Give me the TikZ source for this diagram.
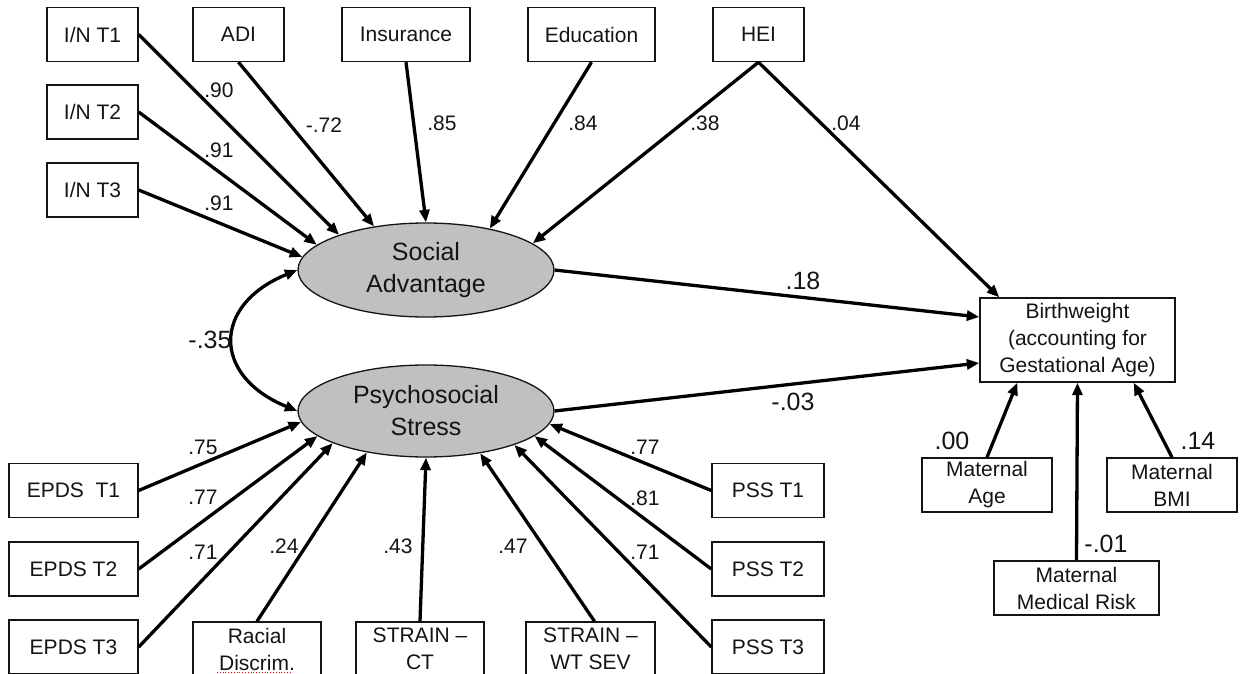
\documentclass[tikz,border=0pt]{standalone}
\usepackage{fontspec}
\setmainfont{Liberation Sans}
\usetikzlibrary{shapes.geometric,arrows.meta,calc}
\definecolor{txt}{HTML}{141414}
\definecolor{latfill}{HTML}{C0C0C0}
\begin{document}
\begin{tikzpicture}[x=1pt,y=-1pt,
  obsbox/.style={draw=txt,line width=1.4pt,inner sep=0pt,align=center,text=txt,minimum height=54pt,font=\fontsize{21}{27}\selectfont},
  latent/.style={ellipse,draw=txt,line width=1.3pt,fill=latfill,inner sep=0pt,minimum width=256pt,minimum height=94pt,align=center,text=txt,font=\fontsize{25}{32}\selectfont},
  arr/.style={draw=black,line width=3.3pt,-{Triangle[length=12.5pt,width=10pt]}},
  lbl/.style={text=txt,inner sep=0pt,font=\fontsize{21}{24}\selectfont},
  biglbl/.style={text=txt,inner sep=0pt,font=\fontsize{25}{28}\selectfont}]
\useasboundingbox (0,0) rectangle (1243,674);
\clip (0,0) rectangle (1243,674);
\fill[white] (0,0) rectangle (1243,674);

% top indicators
\node[obsbox,minimum width=91pt] (in1) at (92.5,34.5) {I/N T1};
\node[obsbox,minimum width=91pt] (in2) at (92.5,112) {I/N T2};
\node[obsbox,minimum width=91pt] (in3) at (92.5,190) {I/N T3};
\node[obsbox,minimum width=91pt] (adi) at (238.5,34.5) {ADI};
\node[obsbox,minimum width=128pt] (ins) at (406,34.5) {Insurance};
\node[obsbox,minimum width=127pt] (edu) at (591.5,34.5) {Education};
\node[obsbox,minimum width=91pt] (hei) at (758.5,34.5) {HEI};

% latent variables
\node[latent] (sa) at (426,270) {Social\\Advantage};
\node[latent,minimum height=92pt] (ps) at (426,411) {Psychosocial\\Stress};

% outcome and covariates
\node[obsbox,minimum width=195pt,minimum height=84pt] (bw) at (1077.5,340) {Birthweight\\(accounting for\\Gestational Age)};
\node[obsbox,minimum width=130pt] (mage) at (987,485) {Maternal\\Age};
\node[obsbox,minimum width=130pt] (mbmi) at (1172,485) {Maternal\\BMI};
\node[obsbox,minimum width=165pt] (mmed) at (1076.5,588) {Maternal\\Medical Risk};

% stress indicators
\node[obsbox,minimum width=129pt] (ep1) at (73.5,490.5) {EPDS\ \ T1};
\node[obsbox,minimum width=129pt] (ep2) at (73.5,569) {EPDS T2};
\node[obsbox,minimum width=129pt] (ep3) at (73.5,647) {EPDS T3};
\node[obsbox,minimum width=128pt] (rd) at (257,649) {Racial\\Discrim.};
\node[obsbox,minimum width=128pt] (ct) at (420,649) {STRAIN –\\CT};
\node[obsbox,minimum width=129pt] (wt) at (590.5,649) {STRAIN –\\WT SEV};
\node[obsbox,minimum width=112pt] (pss1) at (768,490.5) {PSS T1};
\node[obsbox,minimum width=112pt] (pss2) at (768,569) {PSS T2};
\node[obsbox,minimum width=112pt] (pss3) at (768,647) {PSS T3};

\draw[red,line width=0.8pt,dotted] (217,672) -- (292,672);

% arrows into Social Advantage
\draw[arr] (in1.east) -- (sa.158);
\draw[arr] (in2.east) -- (sa.167);
\draw[arr] (in3.east) -- (sa.174);
\draw[arr] (adi.south) -- (sa.140);
\draw[arr] (ins.south) -- (sa.north);
\draw[arr] (edu.south) -- (sa.33);
\draw[arr] (hei.south) -- (sa.14);

% arrows into Psychosocial Stress
\draw[arr] (ep1.east) -- (ps.185);
\draw[arr] (ep2.east) -- (ps.193);
\draw[arr] (ep3.east) -- (ps.199);
\draw[arr] (rd.north) -- (ps.215);
\draw[arr] (ct.north) -- (ps.south);
\draw[arr] ([xshift=4pt]wt.north) -- (ps.322);
\draw[arr] (pss1.west) -- (ps.354);
\draw[arr] (pss2.west) -- (ps.347);
\draw[arr] (pss3.west) -- (ps.339);

% structural paths
\draw[arr] (hei.south) -- ([xshift=20pt]bw.north west);
\draw[arr] (sa.east) -- ([yshift=23pt]bw.west);
\draw[arr] (ps.east) -- ([yshift=-23pt]bw.west);
\draw[arr] (mage.north) -- ([xshift=38pt]bw.south west);
\draw[arr] (mmed.north) -- (bw.south);
\draw[arr] (mbmi.north) -- ([xshift=-42pt]bw.south east);

% correlation
\draw[line width=3.3pt,{Triangle[length=12.5pt,width=10pt]}-{Triangle[length=12.5pt,width=10pt]}]
  (sa.west) .. controls (212,305) and (212,376) .. (ps.west);

% labels
\node[lbl] (l1) at (219,90) {.90};
\node[lbl] (l2) at (219,150) {.91};
\node[lbl] (l3) at (219,203) {.91};
\node[lbl] (l4) at (324,125) {-.72};
\node[lbl] (l5) at (442,123) {.85};
\node[lbl] (l6) at (583,123) {.84};
\node[lbl] (l7) at (705,123) {.38};
\node[lbl] (l8) at (846,123) {.04};
\node[biglbl] (l9) at (803,281) {.18};
\node[biglbl] (l10) at (793,402) {-.03};
\node[biglbl] (l11) at (210,340) {-.35};
\node[lbl] (l12) at (203,447) {.75};
\node[lbl] (l13) at (203,497) {.77};
\node[lbl] (l14) at (203,552) {.71};
\node[lbl] (l15) at (284,546) {.24};
\node[lbl] (l16) at (398,546) {.43};
\node[lbl] (l17) at (513,546) {.47};
\node[lbl] (l18) at (645,447) {.77};
\node[lbl] (l19) at (645,498) {.81};
\node[lbl] (l20) at (645,552) {.71};
\node[biglbl] (l21) at (952,441) {.00};
\node[biglbl] (l22) at (1198,441) {.14};
\node[biglbl] (l23) at (1106,544) {-.01};
\end{tikzpicture}
\end{document}
